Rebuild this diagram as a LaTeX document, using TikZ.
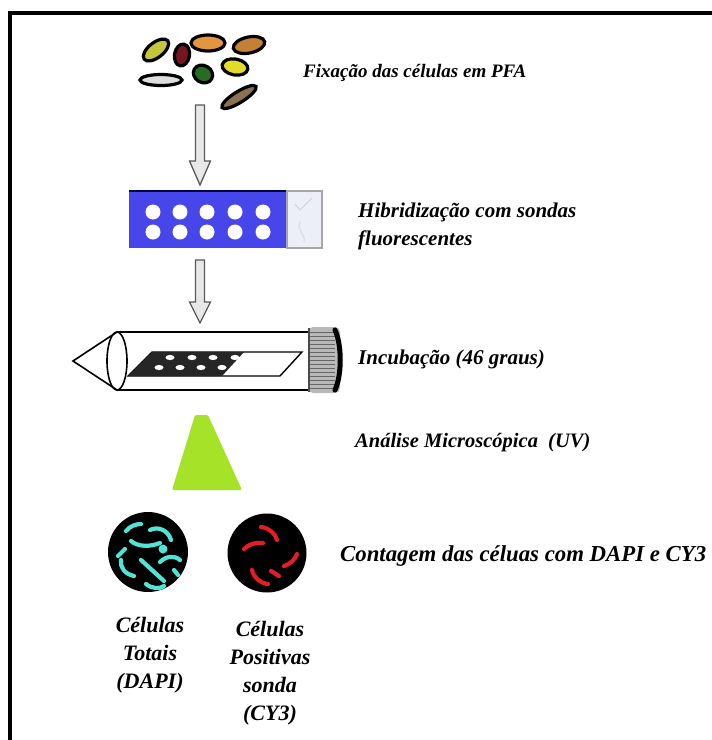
\documentclass[tikz,border=0pt]{standalone}
\usepackage{fontspec}
\setmainfont{Liberation Serif}
\usetikzlibrary{calc}
\definecolor{slideblue}{RGB}{70,70,234}
\definecolor{frost}{RGB}{236,239,247}
\definecolor{lime}{RGB}{166,226,40}
\definecolor{dapi}{RGB}{80,228,215}
\definecolor{cythree}{RGB}{228,30,32}
\definecolor{cellA}{RGB}{196,198,60}
\definecolor{cellB}{RGB}{118,22,30}
\definecolor{cellC}{RGB}{228,150,62}
\definecolor{cellD}{RGB}{196,128,52}
\definecolor{cellE}{RGB}{222,222,222}
\definecolor{cellF}{RGB}{40,108,34}
\definecolor{cellG}{RGB}{228,218,40}
\definecolor{cellH}{RGB}{140,112,82}
\begin{document}
\begin{tikzpicture}[x=1pt,y=-1pt,
  lbl/.style={font=\fontsize{21}{28}\selectfont\bfseries\itshape, anchor=west, inner sep=0pt},
  sublbl/.style={font=\fontsize{22}{28}\selectfont\bfseries\itshape, align=center, anchor=north, inner sep=0pt},
  cell/.style={draw=black, line width=3.2},
  blockarrow/.style={draw=gray!70!black, fill=gray!18, line width=1.3, line join=miter},
  worm/.style={line width=4.2, line cap=round},
  frame/.style={line width=4, black}]
\useasboundingbox (0,0) rectangle (712,740);

% outer frame (top and left edges)
\draw[frame] (10,13) -- (712,13);
\draw[frame] (10,11) -- (10,740);

% ---- fixed cells ----
\draw[cell, fill=cellA, rotate around={38:(156,50)}] (156,50) ellipse (15 and 7.5);
\draw[cell, fill=cellB, rotate around={80:(182,55)}] (182,55) ellipse (11 and 7.5);
\draw[cell, fill=cellC] (208,43) ellipse (17 and 8);
\draw[cell, fill=cellD, rotate around={12:(249,45)}] (249,45) ellipse (16 and 8);
\draw[cell, fill=cellE] (161,80) ellipse (21 and 5.5);
\draw[cell, fill=cellF, rotate around={-30:(203,74)}] (203,74) ellipse (10 and 8.5);
\draw[cell, fill=cellG, rotate around={-10:(235,67)}] (235,67) ellipse (13 and 8);
\draw[cell, fill=cellH, rotate around={32:(239,97)}] (239,97) ellipse (20 and 5.5);
\coordinate (cellsOut) at (200,105);

% ---- hybridisation slide ----
\fill[slideblue] (129,191) rectangle (287,248);
\draw[draw=black!75!blue, line width=1.5] (129,191) -- (287,191);
\draw[fill=frost, draw=gray!70, line width=1.2] (287,191) rectangle (322,248);
\draw[gray!35, line width=1] (295,204) -- (300,210) -- (312,198);
\draw[gray!30, line width=1] (300,222) .. controls (296,230) and (306,234) .. (304,242);
\foreach \cx in {153,180,207,235,263}
  \foreach \cy in {212,232}
    \fill[white] (\cx,\cy) circle (7.5);
\coordinate (slideIn) at (200,185);
\coordinate (slideOut) at (200,260);

% ---- incubation tube ----
\coordinate (tubeIn) at (200,323);
\draw[line width=1.6, fill=white] (117,332) -- (310,332) -- (310,390) -- (117,390);
\draw[line width=1.6, fill=white] (117,332) -- (73,361) -- (117,390);
\draw[line width=1.6] (117,361) ellipse (10 and 29);
% slide inside the tube
\draw[line width=1.4, fill=white] (128,376) -- (280,376) -- (302,352) -- (152,352) -- cycle;
\fill[black!85] (128,376) -- (222,376) -- (244,352) -- (152,352) -- cycle;
\foreach \cx in {170,192,213,235}
  \fill[white] (\cx,357.5) ellipse (4.5 and 2.6);
\foreach \cx in {159,180,201,222}
  \fill[white] (\cx,367.5) ellipse (4.5 and 2.6);
% screw cap
\fill[gray!55, rounded corners=5] (308,327) rectangle (340,393);
\foreach \yy in {332,336,...,390}
  \draw[black!60, line width=0.7] (309,\yy) -- (335,\yy);
\draw[black!70, line width=1.2] (309,328) -- (309,392);
\draw[line width=5, line cap=round] (335,330) .. controls (342,345) and (342,375) .. (335,390);

% ---- arrows between steps ----
\draw[blockarrow] ($(cellsOut)+(-4.5,0)$) -- ($(slideIn)+(-4.5,-24)$) -- ($(slideIn)+(-10.5,-24)$)
  -- (slideIn) -- ($(slideIn)+(10.5,-24)$) -- ($(slideIn)+(4.5,-24)$) -- ($(cellsOut)+(4.5,0)$) -- cycle;
\draw[blockarrow] ($(slideOut)+(-4.5,0)$) -- ($(tubeIn)+(-4.5,-21)$) -- ($(tubeIn)+(-10.5,-21)$)
  -- (tubeIn) -- ($(tubeIn)+(10.5,-21)$) -- ($(tubeIn)+(4.5,-21)$) -- ($(slideOut)+(4.5,0)$) -- cycle;

% ---- UV light beam ----
\fill[lime, rounded corners=1.5] (195,415) -- (208,415) -- (242,490) -- (172,490) -- cycle;

% ---- DAPI field ----
\fill[black] (148,552) circle (40);
\begin{scope}[dapi, worm]
  \draw (126,531) .. controls (130,526) and (136,524) .. (141,524);
  \draw (150,530) .. controls (158,526) and (168,530) .. (171,540);
  \draw (131,541) .. controls (138,547) and (150,547) .. (160,543);
  \draw (121,560) .. controls (120,568) and (125,574) .. (134,576);
  \draw (141,560) -- (164,581);
  \draw (160,562) .. controls (166,556) and (174,555) .. (180,560);
  \draw (125,549) -- (118,556);
  \draw (146,584) .. controls (152,589) and (160,589) .. (164,586);
  \draw (174,570) -- (178,575);
  \fill (163,549) circle (4.5);
\end{scope}

% ---- CY3 field ----
\fill[black] (267,553) circle (39.5);
\begin{scope}[cythree, worm]
  \draw (261,527) .. controls (269,528) and (275,533) .. (277,540);
  \draw (244,549) .. controls (249,544) and (256,542) .. (263,543);
  \draw (284,566) .. controls (290,564) and (295,560) .. (297,554);
  \draw (252,570) .. controls (254,578) and (260,583) .. (268,584);
  \draw (271,571) -- (279,576);
\end{scope}

% ---- step labels ----
\node[lbl, font=\fontsize{19}{24}\selectfont\bfseries\itshape] (fix) at (303,73) {Fixação das células em PFA};
\node[lbl, align=left, anchor=north west] (hyb) at (358,203) {Hibridização com sondas\\fluorescentes};
\node[lbl] (inc) at (358,359) {Incubação (46 graus)};
\node[lbl, font=\fontsize{20.5}{26}\selectfont\bfseries\itshape] (ana) at (355,443) {Análise Microscópica\ \ (UV)};
\node[lbl, font=\fontsize{22.8}{28}\selectfont\bfseries\itshape] (cnt) at (340,556) {Contagem das céluas com DAPI e CY3};
\node[sublbl] (tot) at (150,617) {Células\\Totais\\(DAPI)};
\node[sublbl] (pos) at (270,621) {Células\\Positivas\\sonda\\(CY3)};
\end{tikzpicture}
\end{document}
